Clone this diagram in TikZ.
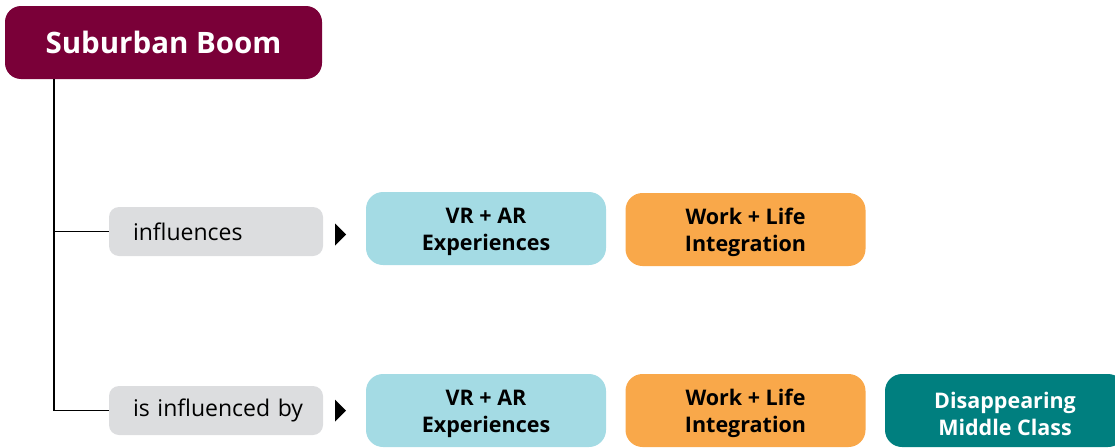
\documentclass[tikz,border=0pt]{standalone}
\usepackage{fontspec}
\setmainfont{Open Sans}
\definecolor{titlec}{HTML}{7A0038}
\definecolor{labelc}{HTML}{DCDDDF}
\definecolor{vrc}{HTML}{A4DBE4}
\definecolor{workc}{HTML}{F9A84A}
\definecolor{tealc}{HTML}{007F7F}
\begin{document}
\begin{tikzpicture}[x=1pt,y=-1pt,
  box/.style={rounded corners=17pt,minimum width=240pt,minimum height=73pt,inner sep=0pt},
  boxtext/.style={inner sep=0pt,align=center,font=\fontsize{21.5pt}{27pt}\selectfont\bfseries},
  lab/.style={fill=labelc,rounded corners=10pt,minimum width=214pt,minimum height=49pt,inner sep=0pt,
    text width=166pt,align=left,font=\fontsize{23pt}{26pt}\selectfont},
  tri/.style={fill=black,draw=none},
  conn/.style={draw=black,line width=1.2pt}]
\useasboundingbox (0,0) rectangle (1115,447);
\node[fill=titlec,rounded corners=16pt,minimum width=317pt,minimum height=73pt,inner sep=0pt,
  text=white,font=\fontsize{29.5pt}{32pt}\selectfont\bfseries] (title) at (163.5,42.5) {Suburban Boom};
\coordinate (top) at (54,79);
\node[lab] (l1) at (216,231.5) {\mbox{influences}};
\node[lab] (l2) at (216,410.5) {\mbox{is influenced by}};
\draw[conn] (top) |- (l1.west);
\draw[conn] (top) |- (l2.west);
\coordinate (a1) at (335,234.5);
\coordinate (a2) at (335,410.5);
\fill[tri] (a1) ++(0,-11) -- ++(11,11) -- ++(-11,11) -- cycle;
\fill[tri] (a2) ++(0,-11) -- ++(11,11) -- ++(-11,11) -- cycle;
\node[box,fill=vrc] (v1) at (486,228.5) {};
\node[box,fill=workc] (w1) at (745.5,229.5) {};
\node[box,fill=vrc] (v2) at (486,410.5) {};
\node[box,fill=workc] (w2) at (745.5,410.5) {};
\node[box,fill=tealc] (d2) at (1005,410.5) {};
\node[boxtext] (v1t) at ([yshift=-3pt]v1.center) {VR + AR\\Experiences};
\node[boxtext] (w1t) at ([yshift=-3pt]w1.center) {Work + Life\\Integration};
\node[boxtext] (v2t) at ([yshift=-3pt]v2.center) {VR + AR\\Experiences};
\node[boxtext] (w2t) at ([yshift=-3pt]w2.center) {Work + Life\\Integration};
\node[boxtext,text=white] (d2t) at ([yshift=-3pt]d2.center) {Disappearing\\Middle Class};
\end{tikzpicture}
\end{document}
